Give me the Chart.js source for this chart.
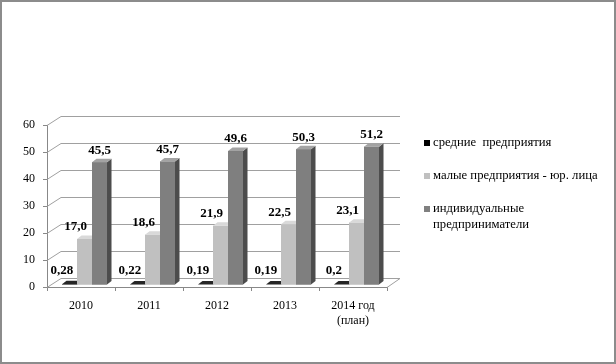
<!DOCTYPE html>
<html>
<head>
<meta charset="utf-8">
<script src="https://cdn.jsdelivr.net/npm/chart.js@4/dist/chart.umd.min.js"></script>
<style>
html,body{margin:0;padding:0;background:#fff;}
canvas{display:block;}
</style>
</head>
<body>
<canvas id="c" width="616" height="364"></canvas>
<script>
const categories = ['2010', '2011', '2012', '2013', ['2014 год', '(план)']];
const seriesNames = ['средние  предприятия', 'малые предприятия - юр. лица', ['индивидуальные', 'предприниматели']];
const mediumValues = [0.28, 0.22, 0.19, 0.19, 0.2];
const smallValues = [17.0, 18.6, 21.9, 22.5, 23.1];
const individualValues = [45.5, 45.7, 49.6, 50.3, 51.2];
const yTicks = [0, 10, 20, 30, 40, 50, 60];

const SERIF = '"Liberation Serif", "Times New Roman", serif';
const faces = [
  {front: '#000000', side: '#000000', top: '#262626', swatch: '#000000'},
  {front: '#c0c0c0', side: '#939393', top: '#d9d9d9', swatch: '#c0c0c0'},
  {front: '#7f7f7f', side: '#4c4c4c', top: '#a3a3a3', swatch: '#808080'}
];
const labelFormat = [
  v => String(v).replace('.', ','),
  v => v.toFixed(1).replace('.', ','),
  v => v.toFixed(1).replace('.', ',')
];
const labelShift = [{dx: -7.5, dy: -14}, {dx: -9, dy: -12}, {dx: 0, dy: -12}];
const DEPTH_X = 14, DEPTH_Y = 9;      // back wall offset
const BAR_DX = 3.5, BAR_DY = -2;      // bars sit mid-floor
const SIDE_X = 4.5, SIDE_Y = 3.5;     // bar depth

const threeD = {
  id: 'threeD',
  beforeDraw(chart) {
    const ctx = chart.ctx;
    ctx.save();
    ctx.fillStyle = '#ffffff';
    ctx.fillRect(0, 0, chart.width, chart.height);
    ctx.restore();
  },
  beforeDatasetsDraw(chart) {
    const ctx = chart.ctx, a = chart.chartArea, y = chart.scales.y;
    ctx.save();
    ctx.strokeStyle = '#a0a0a0';
    ctx.lineWidth = 1;
    yTicks.forEach(v => {
      const py = Math.round(y.getPixelForValue(v)) + 0.5;
      ctx.beginPath();
      ctx.moveTo(a.left, py);
      ctx.lineTo(a.left + DEPTH_X, py - DEPTH_Y);
      ctx.lineTo(a.right + DEPTH_X - 1, py - DEPTH_Y);
      ctx.stroke();
    });
    const by = Math.round(y.getPixelForValue(0)) + 0.5;
    ctx.beginPath();
    ctx.moveTo(a.right, by);
    ctx.lineTo(a.right + DEPTH_X - 1, by - DEPTH_Y);
    ctx.stroke();
    ctx.restore();
    ctx.save();
    ctx.translate(BAR_DX, BAR_DY);
  },
  afterDatasetsDraw(chart) {
    const ctx = chart.ctx;
    ctx.restore();
    ctx.save();
    ctx.translate(BAR_DX, BAR_DY);
    const n = categories.length;
    for (let i = 0; i < n; i++) {
      chart.data.datasets.forEach((ds, d) => {
        const el = chart.getDatasetMeta(d).data[i];
        const f = faces[d];
        const l = el.x - el.width / 2, r = el.x + el.width / 2;
        const t = el.y, b = el.base;
        ctx.fillStyle = f.front;
        ctx.fillRect(l, t, r - l, b - t);
        ctx.fillStyle = f.side;
        ctx.beginPath();
        ctx.moveTo(r, t); ctx.lineTo(r + SIDE_X, t - SIDE_Y);
        ctx.lineTo(r + SIDE_X, b - SIDE_Y); ctx.lineTo(r, b); ctx.closePath();
        ctx.fill();
        ctx.fillStyle = f.top;
        ctx.beginPath();
        ctx.moveTo(l, t); ctx.lineTo(l + SIDE_X, t - SIDE_Y);
        ctx.lineTo(r + SIDE_X, t - SIDE_Y); ctx.lineTo(r, t); ctx.closePath();
        ctx.fill();
      });
    }
    ctx.fillStyle = '#000';
    ctx.font = 'bold 13px ' + SERIF;
    ctx.textAlign = 'center';
    ctx.textBaseline = 'middle';
    chart.data.datasets.forEach((ds, d) => {
      chart.getDatasetMeta(d).data.forEach((el, i) => {
        const s = labelShift[d];
        ctx.fillText(labelFormat[d](ds.data[i]), el.x + s.dx, el.y + s.dy);
      });
    });
    ctx.restore();
  },
  afterDraw(chart) {
    const ctx = chart.ctx;
    ctx.save();
    const rows = [143, 176, 209];
    ctx.font = '12.7px ' + SERIF;
    ctx.textAlign = 'left';
    ctx.textBaseline = 'middle';
    chart.data.datasets.forEach((ds, d) => {
      ctx.fillStyle = faces[d].swatch;
      ctx.fillRect(424, rows[d] - 3, 6, 6);
      ctx.fillStyle = '#000';
      const lines = Array.isArray(ds.label) ? ds.label : [ds.label];
      lines.forEach((ln, k) => ctx.fillText(ln, 433, rows[d] + k * 16));
    });
    ctx.strokeStyle = '#8c8c8c';
    ctx.lineWidth = 2;
    ctx.strokeRect(1, 1, 614, 362);
    ctx.restore();
  }
};

new Chart(document.getElementById('c'), {
  type: 'bar',
  data: {
    labels: categories,
    datasets: [
      {label: seriesNames[0], data: mediumValues, backgroundColor: faces[0].front},
      {label: seriesNames[1], data: smallValues, backgroundColor: faces[1].front},
      {label: seriesNames[2], data: individualValues, backgroundColor: faces[2].front}
    ]
  },
  options: {
    responsive: false,
    devicePixelRatio: 1,
    animation: false,
    layout: {padding: {left: 0, right: 229, top: 125, bottom: 37}},
    datasets: {bar: {categoryPercentage: 0.662, barPercentage: 1.0}},
    plugins: {legend: {display: false}, tooltip: {enabled: false}},
    scales: {
      x: {
        grid: {drawOnChartArea: false, drawTicks: true, tickLength: 4, color: '#888', offset: true},
        border: {color: '#888'},
        ticks: {color: '#000', font: {family: SERIF, size: 12}, padding: 8, maxRotation: 0},
        afterFit(s) { s.height = 40; }
      },
      y: {
        min: 0, max: 60,
        afterBuildTicks(s) { s.ticks = yTicks.map(v => ({value: v})); },
        grid: {drawOnChartArea: false, drawTicks: true, tickLength: 4, color: '#888'},
        border: {color: '#888'},
        ticks: {color: '#000', font: {family: SERIF, size: 12}, padding: 8},
        afterFit(s) { s.width = 47; }
      }
    }
  },
  plugins: [threeD]
});
</script>
</body>
</html>
